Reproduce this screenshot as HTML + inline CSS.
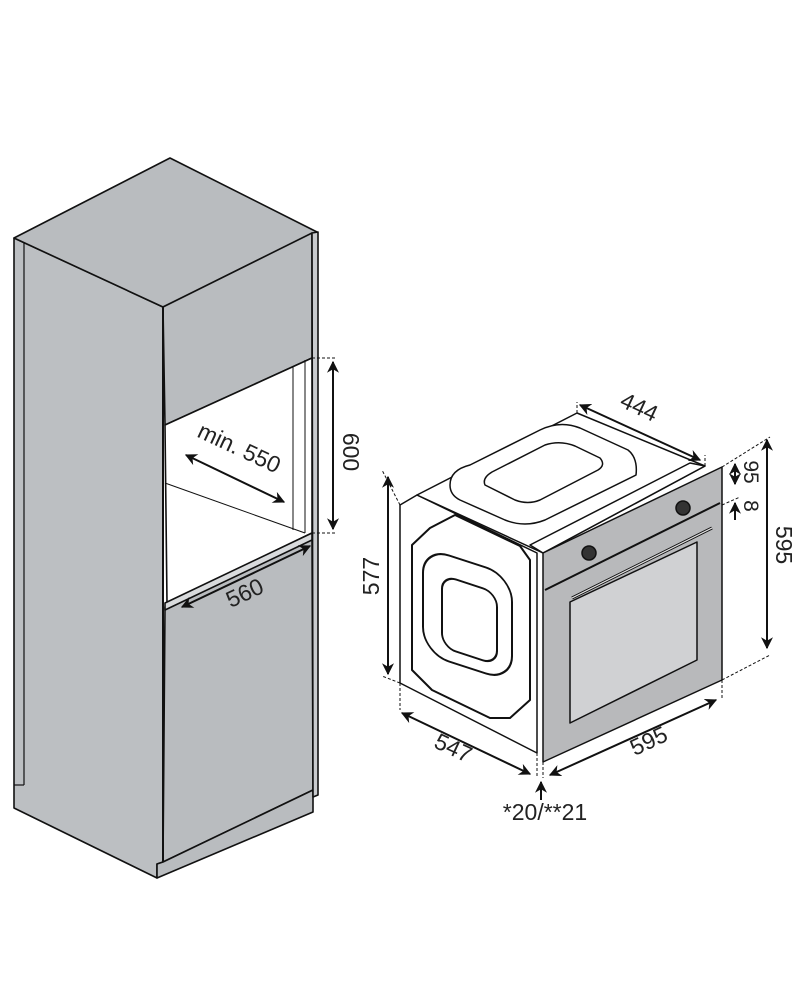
<!DOCTYPE html>
<html><head><style>
html,body{margin:0;padding:0;background:#fff;}
svg{display:block;}
text{font-family:"Liberation Sans",Arial,sans-serif;fill:#222;}
</style></head><body>
<svg width="800" height="1000" viewBox="0 0 800 1000" xmlns="http://www.w3.org/2000/svg">
<defs>
<marker id="a" viewBox="0 0 10 10" refX="9" refY="5" markerWidth="6" markerHeight="6" orient="auto-start-reverse"><path d="M0,0 L10,5 L0,10 L3,5 z" fill="#111"/></marker>
</defs>
<g stroke="#111" stroke-width="1.6" stroke-linejoin="round">
<polygon points="14,238 163,307 163,862 157,864 157,878 14,808" fill="#bcbfc2"/>
<line x1="24" y1="243" x2="24" y2="785" stroke-width="1.2"/>
<polyline points="14,785 24,785" fill="none" stroke-width="1.2"/>
<polygon points="14,238 170,158 317,232 163,307" fill="#b9bcbf"/>
<polygon points="163,307 312,233 312,358 165,425" fill="#b9bcbf"/>
<polygon points="165,425 312,358 312,533 167,603" fill="#fff"/>
<line x1="165" y1="483" x2="305" y2="533" stroke-width="1"/>
<line x1="293" y1="366" x2="293" y2="530" stroke-width="1"/>
<line x1="305" y1="360" x2="305" y2="533" stroke-width="1"/>
<polygon points="165,607 312,537 313,790 163,862" fill="#b9bcbf"/>
<polygon points="165,603 312,533 312,540 165,610" fill="#d9dbdd"/>
<polygon points="157,878 313,812 313,790 163,862 157,864" fill="#b9bcbf"/>
<polygon points="312,233 318,232 318,795 313,797" fill="#c9cbce"/>
<line x1="163" y1="307" x2="163" y2="862" stroke-width="2"/>
</g>
<g stroke="#111" stroke-width="2" fill="none">
<line x1="312" y1="358" x2="336" y2="358" stroke-dasharray="3,2" stroke-width="1"/>
<line x1="312" y1="533" x2="336" y2="533" stroke-dasharray="3,2" stroke-width="1"/>
<line x1="333" y1="362" x2="333" y2="529" marker-start="url(#a)" marker-end="url(#a)"/>
<line x1="186" y1="455" x2="284" y2="502" marker-start="url(#a)" marker-end="url(#a)"/>
<line x1="182" y1="607" x2="310" y2="546" marker-start="url(#a)" marker-end="url(#a)"/>
</g>
<text x="343" y="452" font-size="23" transform="rotate(90 343 452)" text-anchor="middle">600</text>
<text x="236" y="455" font-size="23" transform="rotate(25 236 455)" text-anchor="middle">min. 550</text>
<text x="248" y="600" font-size="23" transform="rotate(-25 248 600)" text-anchor="middle">560</text>

<g stroke="#111" stroke-width="1.5" stroke-linejoin="round">
<polygon points="400,505 417,495 537,553 537,753 400,683" fill="#fff"/>
<polygon points="430,528 455,515 520,546 530,560 530,700 510,718 490,718 432,690 412,670 412,545" fill="#fff" stroke-width="2"/>
<rect x="0" y="0" width="89" height="106" rx="26" transform="translate(423,547) skewY(18)" fill="none" stroke-width="2"/>
<rect x="0" y="0" width="55" height="72" rx="14" transform="translate(442,575) skewY(18)" fill="none" stroke-width="2"/>
<polygon points="417,495 577,413 705,466 543,553" fill="#fff"/>
<path d="M450,485 Q450,470 470,465 L540,430 Q560,420 580,428 L628,450 Q638,458 636,475 L545,520 Q525,528 505,520 L460,500 Q450,495 450,485 Z" fill="#fff"/>
<path d="M485,485 Q482,478 492,472 L545,445 Q560,440 575,446 L600,458 Q606,465 598,470 L540,500 Q528,505 515,500 Z" fill="#fff"/>
<polygon points="530,545 690,463 705,466 543,553" fill="#fff"/>
<polygon points="543,553 722,467 722,680 543,762" fill="#b8b9bb"/>
<polygon points="570,602 697,542 697,660 570,723" fill="#d0d1d3"/>
<line x1="545" y1="590" x2="720" y2="503" stroke-width="2"/>
<line x1="572" y1="598" x2="712" y2="528" stroke-width="3"/>
<line x1="572" y1="598" x2="712" y2="528" stroke="#e8e8e8" stroke-width="1.2"/>
<circle cx="589" cy="553" r="7" fill="#333"/>
<circle cx="683" cy="508" r="7" fill="#333"/>
<line x1="537" y1="553" x2="537" y2="753" stroke-width="1"/>
</g>
<g stroke="#111" stroke-width="2" fill="none">
<g stroke-dasharray="3,2" stroke-width="1">
<line x1="577" y1="413" x2="577" y2="402"/>
<line x1="705" y1="466" x2="705" y2="455"/>
<line x1="722" y1="467" x2="770" y2="437"/>
<line x1="722" y1="680" x2="770" y2="655"/>
<line x1="400" y1="505" x2="382" y2="470"/>
<line x1="400" y1="683" x2="382" y2="676"/>
<line x1="400" y1="683" x2="400" y2="710"/>
<line x1="537" y1="753" x2="537" y2="778"/>
<line x1="543" y1="762" x2="543" y2="778"/>
<line x1="722" y1="680" x2="722" y2="700"/>
<line x1="722" y1="505" x2="740" y2="497"/>
</g>
<line x1="580" y1="405" x2="700" y2="460" marker-start="url(#a)" marker-end="url(#a)"/>
<line x1="767" y1="440" x2="767" y2="648" marker-start="url(#a)" marker-end="url(#a)"/>
<line x1="735" y1="464" x2="735" y2="484" marker-start="url(#a)" marker-end="url(#a)"/>
<line x1="735" y1="520" x2="735" y2="503" marker-end="url(#a)"/>
<line x1="388" y1="477" x2="388" y2="674" marker-start="url(#a)" marker-end="url(#a)"/>
<line x1="402" y1="713" x2="530" y2="774" marker-start="url(#a)" marker-end="url(#a)"/>
<line x1="550" y1="775" x2="716" y2="700" marker-start="url(#a)" marker-end="url(#a)"/>
<line x1="541" y1="800" x2="541" y2="782" marker-end="url(#a)"/>
</g>
<text x="636" y="414" font-size="23" transform="rotate(25 636 414)" text-anchor="middle">444</text>
<text x="776" y="545" font-size="23" transform="rotate(90 776 545)" text-anchor="middle">595</text>
<text x="744" y="472" font-size="21" transform="rotate(90 744 472)" text-anchor="middle">95</text>
<text x="744" y="506" font-size="21" transform="rotate(90 744 506)" text-anchor="middle">8</text>
<text x="379" y="576" font-size="23" transform="rotate(-90 379 576)" text-anchor="middle">577</text>
<text x="450" y="755" font-size="23" transform="rotate(25 450 755)" text-anchor="middle">547</text>
<text x="652" y="748" font-size="23" transform="rotate(-25 652 748)" text-anchor="middle">595</text>
<text x="545" y="820" font-size="23" text-anchor="middle">*20/**21</text>
</svg>
</body></html>
